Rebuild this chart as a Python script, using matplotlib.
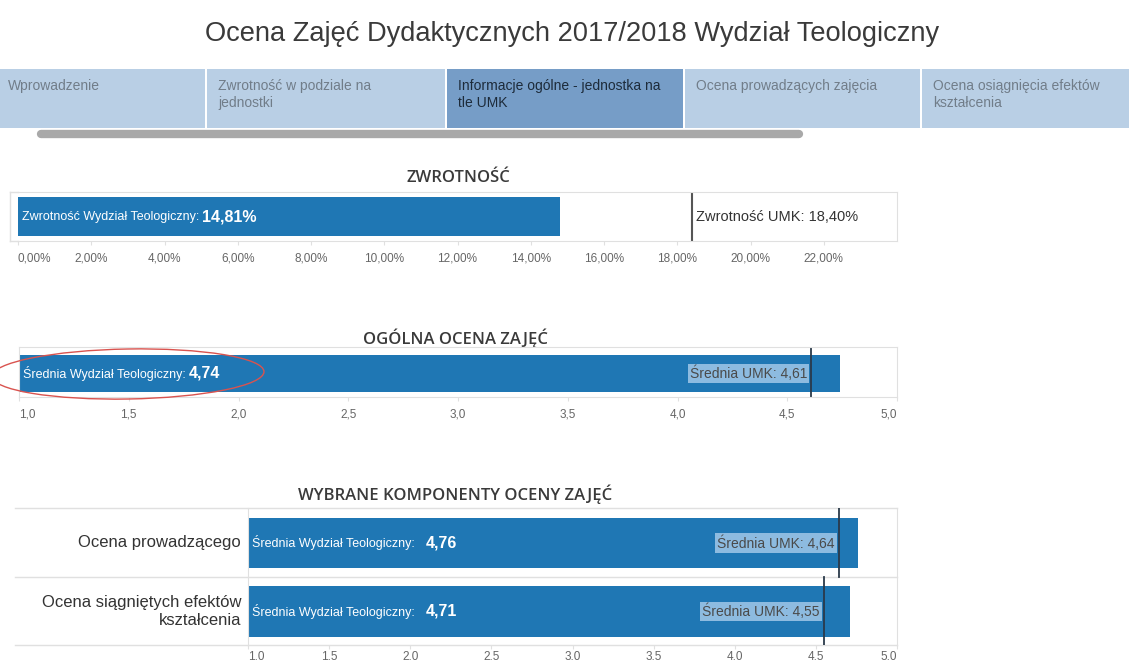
import matplotlib.pyplot as plt
from matplotlib.patches import Rectangle, Ellipse

W, H = 1129, 665

title = 'Ocena Zajęć Dydaktycznych 2017/2018 Wydział Teologiczny'
tabs = ['Wprowadzenie', 'Zwrotność w podziale na\njednostki',
        'Informacje ogólne - jednostka na\ntle UMK', 'Ocena prowadzących zajęcia',
        'Ocena osiągnięcia efektów\nkształcenia']
active_tab = 2

zwrot_wydzial = 14.81
zwrot_umk = 18.40
zwrot_ticks = [0, 2, 4, 6, 8, 10, 12, 14, 16, 18, 20, 22]

ocena_wydzial = 4.74
ocena_umk = 4.61
ocena_ticks = [1.0, 1.5, 2.0, 2.5, 3.0, 3.5, 4.0, 4.5, 5.0]

komponenty = ['Ocena prowadzącego', 'Ocena siągniętych efektów\nkształcenia']
komp_wydzial = [4.76, 4.71]
komp_umk = [4.64, 4.55]

BLUE = '#1f77b4'
GRID = '#e0e0e0'
BOX = '#8dbbe0'
plt.rcParams['font.family'] = ['Liberation Sans', 'DejaVu Sans']

fig = plt.figure(figsize=(W / 100, H / 100), dpi=100)


def px_axes(x0, y0, x1, y1, z=1):
    return fig.add_axes([x0 / W, 1 - y1 / H, (x1 - x0) / W, (y1 - y0) / H], zorder=z)


def comma(v, fmt):
    return format(v, fmt).replace('.', ',')


# background layer in pixel coordinates
bg = px_axes(0, 0, W, H, z=0)
bg.set_xlim(0, W)
bg.set_ylim(H, 0)
bg.axis('off')

bg.text(W / 2 + 8, 34, title, ha='center', va='center', fontsize=19.6, color='#3a3a3a')

edges = [-3, 207, 447, 685, 922, 1131]
for i, name in enumerate(tabs):
    x0, x1 = edges[i], edges[i + 1] - 2
    active = i == active_tab
    bg.add_patch(Rectangle((x0, 69), x1 - x0, 59, fc='#769dc7' if active else '#b9cfe5', ec='none'))
    bg.text(max(x0, 0) + (8 if i == 0 else 11), 79, name, ha='left', va='top', fontsize=10,
            color='#1d2b3a' if active else '#717d89', linespacing=1.25)
bg.plot([41, 799], [134, 134], color='#a9a9a9', lw=6, solid_capstyle='round')

sec_font = dict(ha='center', va='center', fontsize=12, color='#3a3a3a',
                family=['Open Sans', 'DejaVu Sans'], fontweight='semibold')
bg.text(458, 178, 'ZWROTNOŚĆ', **sec_font)
bg.text(455, 338, 'OGÓLNA OCENA ZAJĘĆ', **sec_font)
bg.text(455, 494, 'WYBRANE KOMPONENTY OCENY ZAJĘĆ', **sec_font)


def style_axis(ax, pad=5):
    ax.set_facecolor('none')
    for s in ax.spines.values():
        s.set_color(GRID)
    ax.set_yticks([])
    ax.tick_params(axis='x', length=3, color=GRID, labelsize=8.5, labelcolor='#666666', pad=pad)


def wydzial_label(ax, x, y, label, value, gap):
    t = ax.annotate(label, xy=(x, y), xytext=(3, 0), textcoords='offset points',
                    color='white', fontsize=9, va='center', ha='left')
    ax.annotate(value, xy=(1, 0.5), xycoords=t, xytext=(gap, 0), textcoords='offset points',
                color='white', fontsize=11.5, fontweight='bold', va='center', ha='left')


def umk_label(ax, x, y, text):
    ax.annotate(text, xy=(x, y), xytext=(-3, 0), textcoords='offset points',
                color='#4a4a4a', fontsize=10, va='center', ha='right',
                bbox=dict(boxstyle='square,pad=0.15', fc=BOX, ec='none'))


# ZWROTNOŚĆ
ax1 = px_axes(18, 192, 897, 241)
style_axis(ax1)
ax1.spines['left'].set_visible(False)
ax1.set_xlim(0, 24)
ax1.set_ylim(0, 1)
ax1.barh(0.5, zwrot_wydzial, height=0.78, left=0, color=BLUE)
ax1.axvline(zwrot_umk, color='#555555', lw=1.5)
ax1.set_xticks(zwrot_ticks)
ax1.set_xticklabels([comma(v, '.2f') + '%' for v in zwrot_ticks])
wydzial_label(ax1, 0, 0.5, 'Zwrotność Wydział Teologiczny:', comma(zwrot_wydzial, '.2f') + '%', 2)
ax1.annotate('Zwrotność UMK: ' + comma(zwrot_umk, '.2f') + '%', xy=(zwrot_umk, 0.5),
             xytext=(3, 0), textcoords='offset points', color='#333333', fontsize=10.5,
             va='center', ha='left')
ax1.get_xticklabels()[0].set_ha('left')
bg.plot([10, 18], [192, 192], color=GRID, lw=1)
bg.plot([10, 18], [241, 241], color=GRID, lw=1)
bg.plot([10, 10], [192, 241], color=GRID, lw=1)

# OGÓLNA OCENA ZAJĘĆ
ax2 = px_axes(19, 347, 897, 397)
style_axis(ax2)
ax2.set_xlim(1, 5)
ax2.set_ylim(0, 1)
ax2.barh(0.47, ocena_wydzial - 1, height=0.74, left=1, color=BLUE)
ax2.axvline(ocena_umk, color='#2b3a4a', lw=1.3)
ax2.set_xticks(ocena_ticks)
ax2.set_xticklabels([comma(v, '.1f') for v in ocena_ticks])
wydzial_label(ax2, 1, 0.47, 'Średnia Wydział Teologiczny:', comma(ocena_wydzial, '.2f'), 2)
umk_label(ax2, ocena_umk, 0.47, 'Średnia UMK: ' + comma(ocena_umk, '.2f'))
ax2.get_xticklabels()[0].set_ha('left')
ax2.get_xticklabels()[-1].set_ha('right')

# WYBRANE KOMPONENTY OCENY ZAJĘĆ
ax3 = px_axes(248, 508, 897, 645)
style_axis(ax3, pad=1.5)
ax3.spines['top'].set_visible(False)
ax3.spines['bottom'].set_visible(False)
ax3.set_xlim(1, 5)
ax3.set_ylim(len(komponenty), 0)
for i, name in enumerate(komponenty):
    y = i + 0.51
    ax3.barh(y, komp_wydzial[i] - 1, height=0.74, left=1, color=BLUE)
    ax3.plot([komp_umk[i], komp_umk[i]], [i, i + 1], color='#2b3a4a', lw=1.3)
    wydzial_label(ax3, 1, y, 'Średnia Wydział Teologiczny:', comma(komp_wydzial[i], '.2f'), 8)
    umk_label(ax3, komp_umk[i], y, 'Średnia UMK: ' + comma(komp_umk[i], '.2f'))
    ax3.annotate(name, xy=(1, y), xytext=(-5, 0), textcoords='offset points', ha='right',
                 va='center', fontsize=12, color='#333333', annotation_clip=False)
ax3.set_xticks(ocena_ticks)
ax3.set_xticklabels([format(v, '.1f') for v in ocena_ticks])
ax3.get_xticklabels()[0].set_ha('left')
ax3.get_xticklabels()[-1].set_ha('right')
for yy in [508, 577, 645]:
    bg.plot([15, 897], [yy, yy], color=GRID, lw=1)

# red hand-drawn highlight
top = px_axes(0, 0, W, H, z=5)
top.set_xlim(0, W)
top.set_ylim(H, 0)
top.axis('off')
top.add_patch(Ellipse((128, 374), 272, 50, angle=-1, fill=False, ec='#d9534f', lw=1))

fig.savefig('out.png', dpi=100)
